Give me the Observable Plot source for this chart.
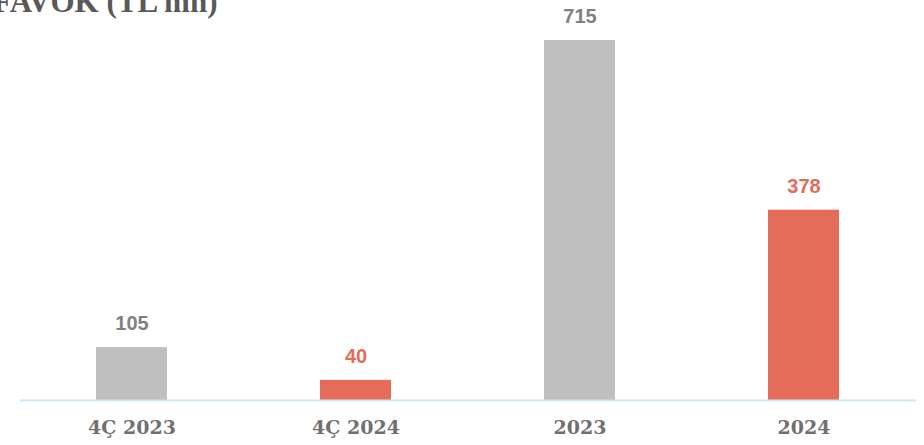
<!DOCTYPE html>
<html>
<head>
<meta charset="utf-8">
<script src="https://cdn.jsdelivr.net/npm/d3@7"></script>
<script src="https://cdn.jsdelivr.net/npm/@observablehq/plot@0.6"></script>
<style>
  html, body { margin: 0; padding: 0; background: #fff; overflow: hidden; }
  #wrap { position: relative; width: 924px; height: 445px; overflow: hidden; }
  #title { position: absolute; left: -7px; top: -13px; font-family: "Liberation Serif", serif; font-weight: bold; font-size: 31px; line-height: 30px; color: #595959; white-space: nowrap; }
</style>
</head>
<body>
<div id="wrap">
  <div id="chart"></div>
  <div id="title">FAVÖK (TL mn)</div>
</div>
<script>
const periods = ["4Ç 2023", "4Ç 2024", "2023", "2024"];
const values = [105, 40, 715, 378];
const years = ["2023", "2024", "2023", "2024"];

const data = periods.map((p, i) => ({period: p, value: values[i], year: years[i]}));

const chart = Plot.plot({
  width: 924,
  height: 445,
  marginLeft: 20,
  marginRight: 8,
  marginTop: 40,
  marginBottom: 45,
  x: {domain: periods, paddingInner: 0.683, paddingOuter: 0.3415, label: null},
  y: {domain: [0, 715], axis: null},
  color: {domain: ["2023", "2024"], range: ["#bfbfbf", "#e46c5a"]},
  marks: [
    Plot.barY(data, {x: "period", y: "value", fill: "year"}),
    Plot.ruleY([0], {stroke: "#c8e9f2", strokeWidth: 2}),
    Plot.text(data, {
      x: "period", y: "value", text: d => String(d.value),
      dy: -24, lineAnchor: "middle",
      fill: d => d.year === "2023" ? "#808080" : "#e46c5a",
      fontFamily: "Liberation Sans, Arial, sans-serif", fontWeight: "bold", fontSize: 20
    }),
    Plot.axisX({
      tickSize: 0, tickPadding: 20, label: null,
      fontFamily: "DejaVu Serif, serif", fontWeight: "bold", fontSize: 19,
      fill: "#707070"
    })
  ]
});
document.getElementById("chart").appendChild(chart);
</script>
</body>
</html>
